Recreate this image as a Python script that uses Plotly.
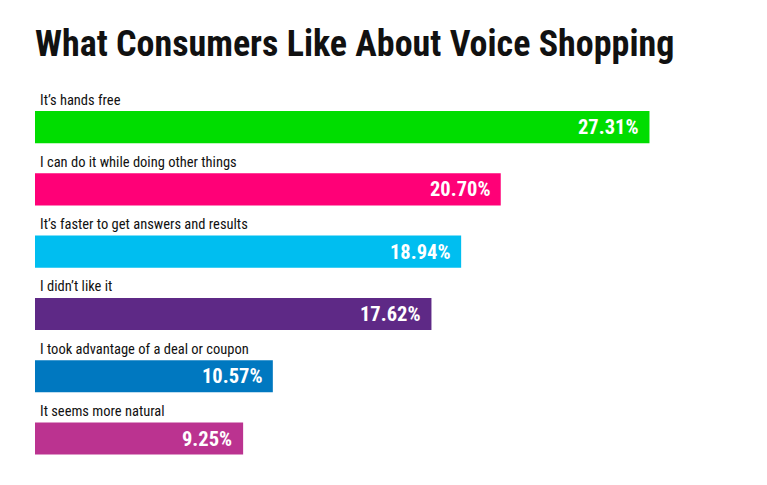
import plotly.graph_objects as go

categories = [
    "It’s hands free",
    "I can do it while doing other things",
    "It’s faster to get answers and results",
    "I didn’t like it",
    "I took advantage of a deal or coupon",
    "It seems more natural",
]
values = [27.31, 20.70, 18.94, 17.62, 10.57, 9.25]
value_labels = ["27.31%", "20.70%", "18.94%", "17.62%", "10.57%", "9.25%"]
colors = ["#00DD00", "#FF0077", "#00BEF0", "#5E2986", "#0078C0", "#BB3390"]

OFF = 8  # page body margin
W, H = 767, 485
ML, MR, MT, MB = 35 - OFF, 0, 96 - OFF, 17
px_per_unit = 22.5
xmax = (W - ML - MR) / px_per_unit

fig = go.Figure()
fig.add_trace(go.Bar(
    x=values,
    y=categories,
    orientation="h",
    marker=dict(color=colors, line=dict(width=0)),
    width=0.516,
    hoverinfo="skip",
))

cond = "Roboto Condensed, Barlow, Roboto, sans-serif"
annotations = []
for cat, v, lab in zip(categories, values, value_labels):
    annotations.append(dict(
        x=0, y=cat, xref="x", yref="y", text=cat, showarrow=False,
        xanchor="left", yanchor="middle", xshift=3, yshift=27,
        font=dict(family=cond, size=14.5, color="#111111"),
    ))
    annotations.append(dict(
        x=v, y=cat, xref="x", yref="y", text="<b>" + lab + "</b>", showarrow=False,
        xanchor="right", yanchor="middle", xshift=-9, yshift=0,
        font=dict(family=cond, size=20.5, color="#FFFFFF"),
    ))

fig.update_layout(
    width=W, height=H,
    margin=dict(l=ML, r=MR, t=MT, b=MB, pad=0),
    paper_bgcolor="white", plot_bgcolor="white",
    showlegend=False,
    title=dict(
        text="<b>What Consumers Like About Voice Shopping</b>",
        x=(35 - OFF) / W, xref="container", xanchor="left",
        y=1 - (43 - OFF) / H, yref="container", yanchor="middle",
        font=dict(family=cond, size=36, color="#111111"),
    ),
    xaxis=dict(range=[0, xmax], visible=False, fixedrange=True),
    yaxis=dict(autorange="reversed", visible=False, fixedrange=True),
    annotations=annotations,
    bargap=0.484,
)

fig.write_html("out.html")
